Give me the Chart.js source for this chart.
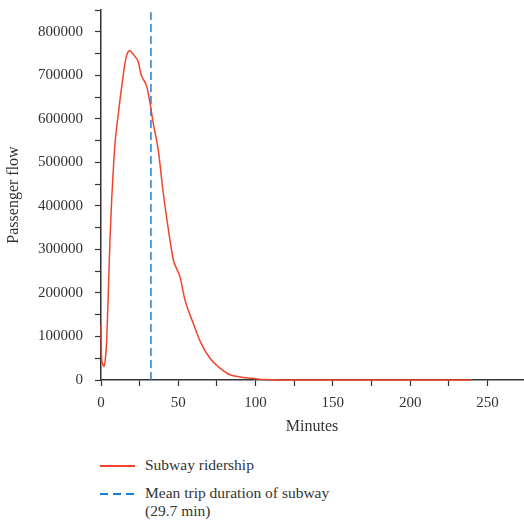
<!DOCTYPE html>
<html>
<head>
<meta charset="utf-8">
<script src="https://cdn.jsdelivr.net/npm/chart.js@4"></script>
<style>
  body { margin: 0; background: #fff; font-family: "Liberation Serif", serif; color: #333; }
  #wrap { width: 524px; height: 440px; position: relative; }
  #legend { margin: 16px 0 0 100px; font-size: 15.5px; line-height: 18px; }
  #legend .row { display: flex; align-items: flex-start; margin-bottom: 10px; }
  #legend .swatch { width: 35px; height: 1.5px; margin-top: 9px; margin-right: 10px; flex: none; }
</style>
</head>
<body>
<div id="wrap"><canvas id="flow"></canvas></div>
<div id="legend"></div>
<script>
(function(){
    // minutes / passenger flow
    const minutes = [0, 0.3, 1, 2, 3, 3.7, 5, 5.8, 6.9, 8, 9.1, 11, 12.3, 14, 15.5, 17, 18.8, 20, 22, 24, 26,
        29.6, 31.7, 33.8, 37, 40.3, 43, 46.8, 49, 51.1, 54.3, 59.7, 64, 70.5, 76, 83.4, 90, 100, 106, 115, 150, 200, 240];
    const ridership = [126000, 55000, 38000, 31000, 55000, 92000, 230000, 322000, 414000, 485000, 545000, 605000,
        644000, 690000, 728000, 750000, 757000, 752000, 743000, 732000, 701000, 674000, 636000, 590000, 529000,
        429000, 360000, 276000, 255000, 237000, 184000, 130000, 90000, 50000, 30000, 12000, 7000, 3000, 1000, 0, 0, 0, 0];
    const meanLineX = [32.3, 32.3];
    const meanLineY = [0, 845000];
    const seriesNames = ['Subway ridership', ['Mean trip duration of subway', '(29.7 min)']];

    const ink = '#333';
    const tickFont = { family: 'Liberation Serif', size: 15 };
    const titleFont = { family: 'Liberation Serif', size: 16 };
    const ctx = document.getElementById('flow').getContext('2d');

    const chart = new Chart(ctx, {
        type: 'line',
        data: {
            datasets: [{
                label: seriesNames[0],
                data: minutes.map((m, i) => ({x: m, y: ridership[i]})),
                borderColor: '#f0442c',
                borderWidth: 1.5,
                pointRadius: 0,
                cubicInterpolationMode: 'monotone',
                clip: false
            }, {
                label: seriesNames[1],
                data: meanLineX.map((m, i) => ({x: m, y: meanLineY[i]})),
                borderColor: '#1a7fd0',
                borderWidth: 1.5,
                borderDash: [8, 4],
                pointRadius: 0,
                clip: false
            }]
        },
        options: {
            responsive: true,
            maintainAspectRatio: false,
            animation: false,
            layout: { padding: { top: 10, right: 1 } },
            plugins: { legend: { display: false }, tooltip: { enabled: false } },
            scales: {
                x: {
                    type: 'linear',
                    min: 0, max: 273,
                    afterBuildTicks: s => { s.ticks = s.ticks.filter(t => t.value % 25 === 0); },
                    afterFit: s => { s.height = 60; },
                    ticks: {
                        stepSize: 25, color: ink, padding: 8, maxRotation: 0, autoSkip: false,
                        includeBounds: false,
                        font: tickFont,
                        callback: v => v % 50 === 0 ? v : ''
                    },
                    grid: { drawOnChartArea: false, tickLength: 6, tickColor: ink, tickWidth: 1.2 },
                    border: { color: ink, width: 1.5 },
                    title: { display: true, text: 'Minutes', color: ink, padding: { top: 0 }, font: titleFont }
                },
                y: {
                    min: 0, max: 850000,
                    afterFit: s => { s.width = 101; s.paddingTop = 0; },
                    ticks: {
                        stepSize: 50000, color: ink, padding: 12, autoSkip: false,
                        font: tickFont,
                        callback: v => v % 100000 === 0 ? v : ''
                    },
                    grid: { drawOnChartArea: false, tickLength: 6, tickColor: ink, tickWidth: 1.2 },
                    border: { color: ink, width: 1.5 },
                    title: { display: true, text: 'Passenger flow', color: ink, padding: { top: 4, bottom: 0 }, font: titleFont }
                }
            }
        }
    });

    // legend below the plot, built from the datasets
    const legend = document.getElementById('legend');
    chart.data.datasets.forEach(ds => {
        const row = document.createElement('div');
        row.className = 'row';
        const sw = document.createElement('span');
        sw.className = 'swatch';
        sw.style.background = ds.borderDash
            ? 'repeating-linear-gradient(to right, ' + ds.borderColor + ' 0 8px, transparent 8px 13px)'
            : ds.borderColor;
        const txt = document.createElement('span');
        txt.innerHTML = [].concat(ds.label).join('<br>');
        row.appendChild(sw);
        row.appendChild(txt);
        legend.appendChild(row);
    });
}())
</script>
</body>
</html>
